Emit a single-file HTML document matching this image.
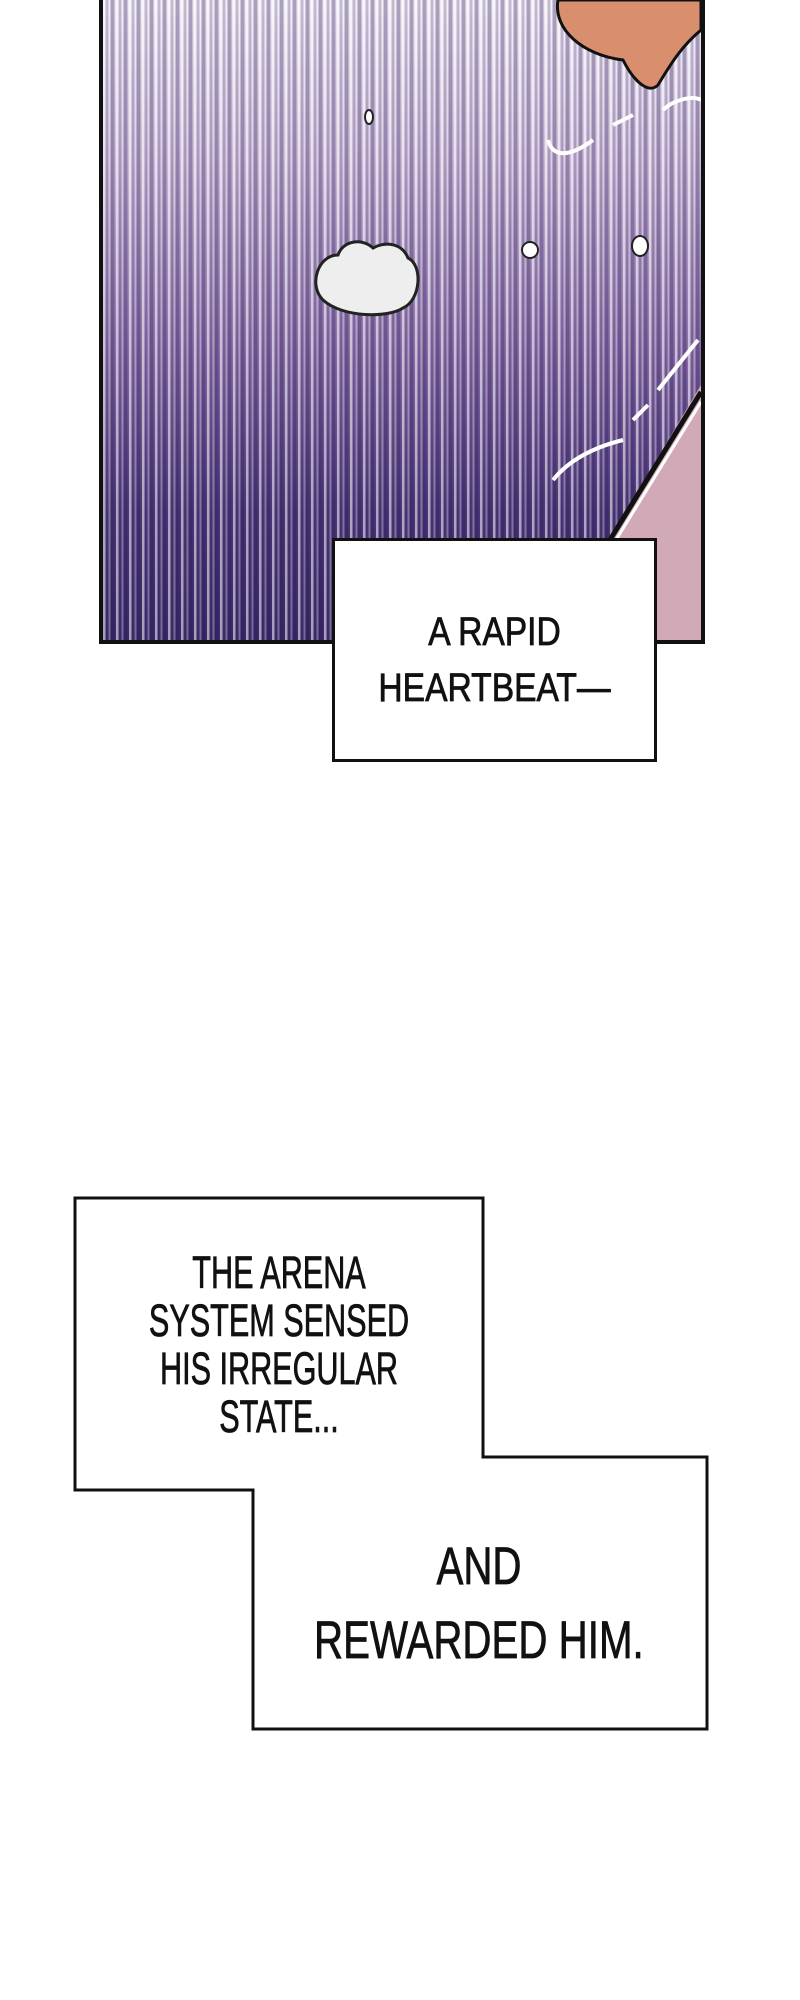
<!DOCTYPE html>
<html><head><meta charset="utf-8"><style>
html,body{margin:0;padding:0;background:#fff;}
body{width:800px;height:2000px;position:relative;overflow:hidden;font-family:"Liberation Sans Narrow","Liberation Sans",sans-serif;}
.panel{position:absolute;left:99px;top:-4px;width:598px;height:640px;border:4px solid #111;overflow:hidden;
background:
repeating-linear-gradient(90deg,rgba(255,255,255,.55) 0 2px,rgba(60,40,110,.25) 3px 5px,rgba(255,255,255,.3) 6px 7px,rgba(40,20,90,.35) 8px 11px,rgba(255,255,255,.0) 12px 13px),
linear-gradient(180deg,#f1ecf4 0%,#cdbcd8 25%,#8a6fa6 55%,#4b3776 80%,#3a2a66 100%);}
.box{position:absolute;background:#fff;border:3px solid #111;box-sizing:border-box;}
.t{position:absolute;text-align:center;color:#111;white-space:nowrap;transform-origin:center;-webkit-text-stroke:0.8px #111;}
</style></head><body>
<div class="panel">
 <svg width="598" height="640" style="position:absolute;left:0;top:0">
  <polygon points="598,385 598,640 440,640 470,600" fill="#d2a9b6"/>
  <polyline points="470,600 598,392" stroke="#111" stroke-width="5" fill="none"/>
  <polyline points="474,603 598,402" stroke="#fff" stroke-width="3" fill="none"/>
  <path d="M455,0 C450,30 480,55 520,60 C530,80 545,95 555,85 C570,60 580,45 598,30 L598,0 Z" fill="#d98f6e" stroke="#111" stroke-width="3"/>
  <path d="M220,300 C205,285 215,255 235,255 C240,240 260,238 270,248 C285,240 300,245 305,258 C320,265 318,300 300,308 C285,318 240,318 220,300 Z" fill="#eee" stroke="#222" stroke-width="3"/>
  <ellipse cx="266" cy="117" rx="4" ry="7" fill="#fff" stroke="#222" stroke-width="2"/>
  <ellipse cx="427" cy="250" rx="8" ry="8" fill="#fff" stroke="#222" stroke-width="2"/>
  <ellipse cx="537" cy="246" rx="8" ry="10" fill="#fff" stroke="#222" stroke-width="2"/>
  <path d="M445,140 C450,160 470,155 490,140 M510,125 L530,115 M560,110 C570,100 590,95 598,100" stroke="#fff" stroke-width="4" fill="none"/>
  <path d="M450,480 C470,455 500,445 520,440 M530,420 L545,405 M555,390 L595,340" stroke="#fff" stroke-width="4" fill="none"/>
 </svg>
</div>
<div class="box" style="left:332px;top:538px;width:325px;height:224px;"></div>
<div class="t" style="left:332px;width:325px;top:604px;font-size:40px;line-height:56px;transform:scaleX(.84);">A RAPID<br>HEARTBEAT—</div>

<svg width="800" height="2000" style="position:absolute;left:0;top:0">
 <polygon points="75,1198 483,1198 483,1457 707,1457 707,1729 253,1729 253,1490 75,1490" fill="#fff" stroke="#111" stroke-width="3"/>
</svg>
<div class="t" style="left:75px;width:408px;top:1249px;font-size:45px;line-height:48px;transform:scaleX(.68);">THE ARENA<br>SYSTEM SENSED<br>HIS IRREGULAR<br>STATE...</div>
<div class="t" style="left:279px;width:400px;top:1530px;font-size:53px;line-height:74px;transform:scaleX(.76);">AND</div>
<div class="t" style="left:266px;width:400px;top:1604px;font-size:53px;line-height:74px;transform:scaleX(.76);">REWARDED HIM.</div>
</body></html>
